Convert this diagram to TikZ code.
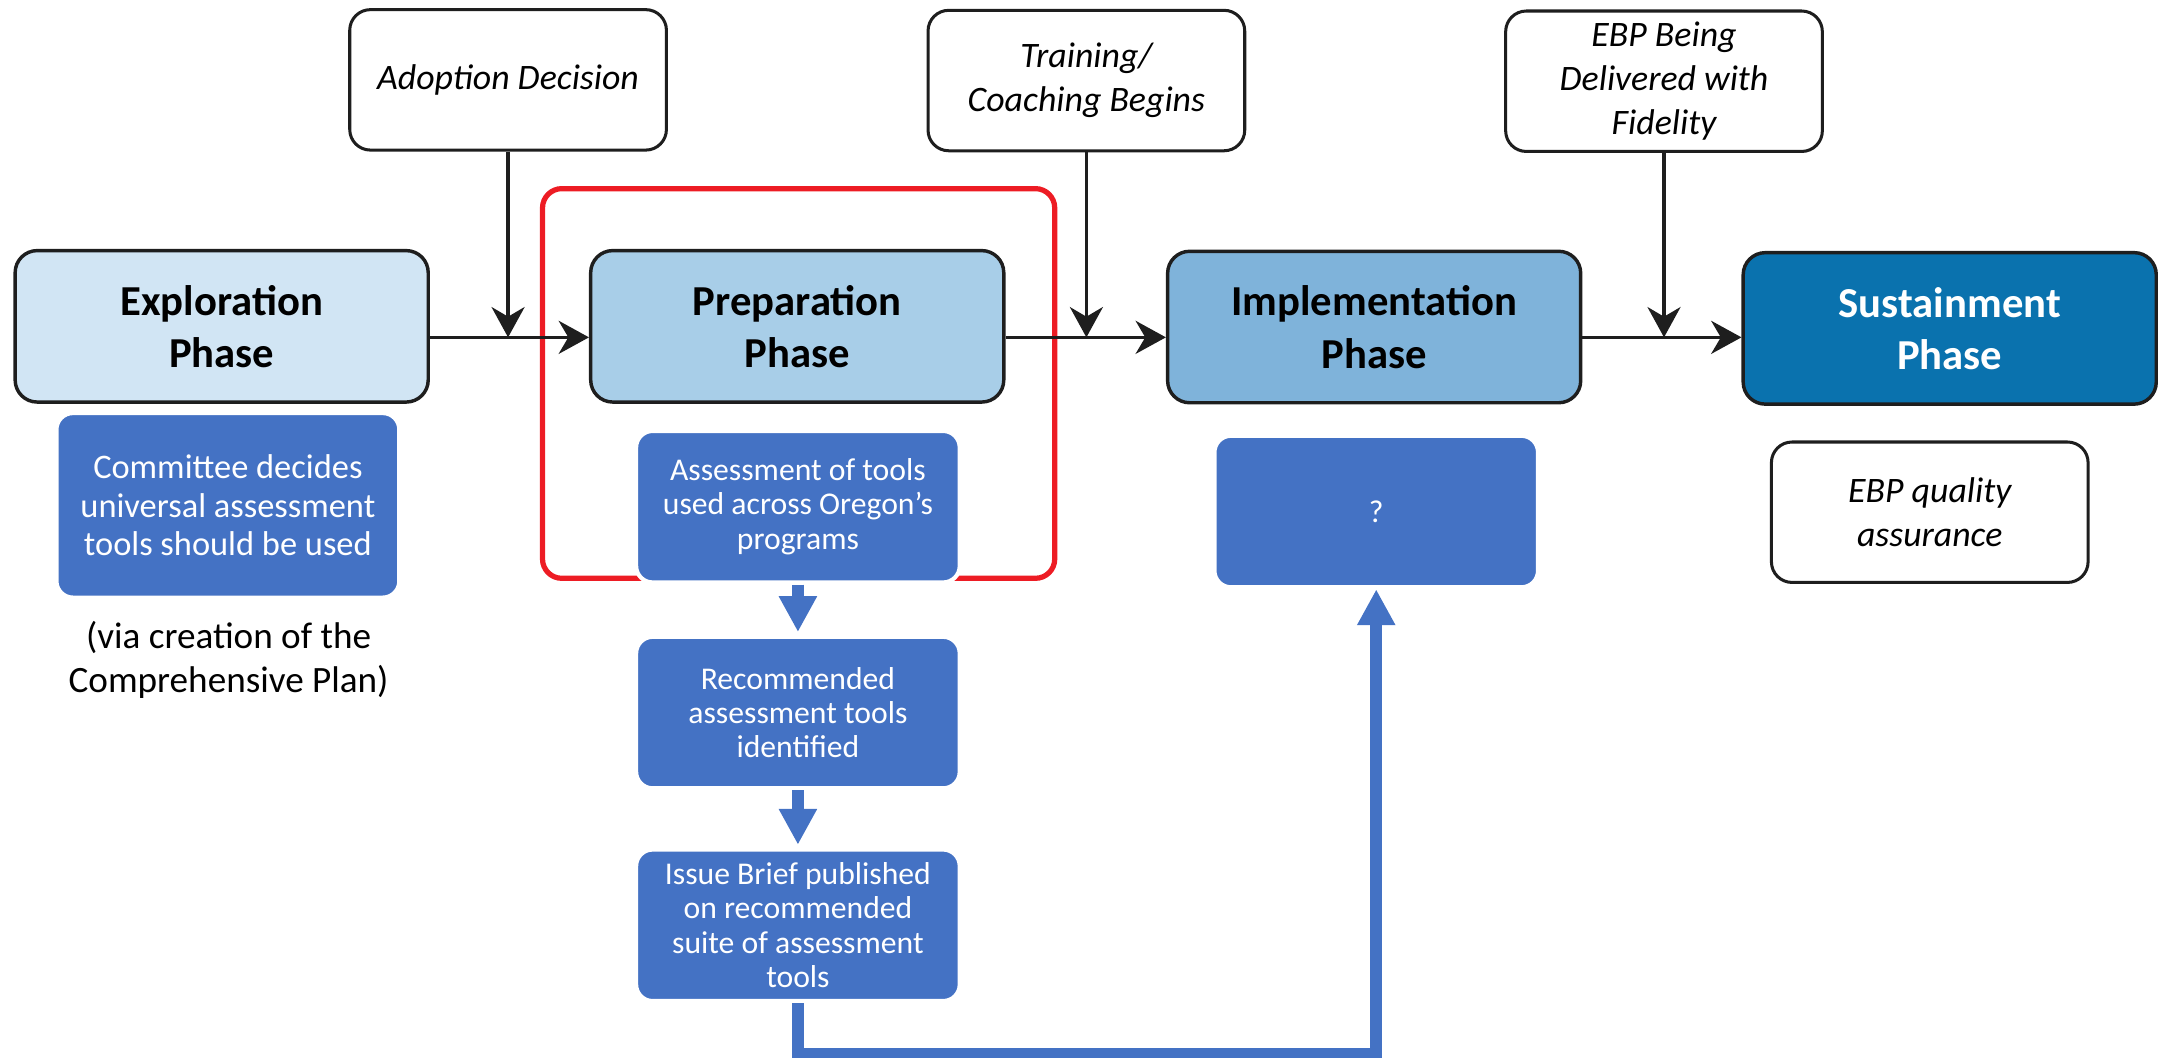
\documentclass[tikz,border=0pt]{standalone}
\usepackage{fontspec}
\setmainfont{Carlito}
\usetikzlibrary{arrows.meta}

\definecolor{expfill}{HTML}{D1E5F4}
\definecolor{prepfill}{HTML}{A8CEE8}
\definecolor{implfill}{HTML}{7FB3DA}
\definecolor{sustfill}{HTML}{0A72AE}
\definecolor{stepblue}{HTML}{4472C4}
\definecolor{framered}{HTML}{ED1C24}
\definecolor{edge}{HTML}{1E1E1E}

\begin{document}
\begin{tikzpicture}[x=1pt, y=-1pt,
  phase/.style={draw=edge, line width=2.5pt, rounded corners=16pt,
    minimum width=300pt, minimum height=110pt, inner sep=0pt, align=center,
    font=\fontsize{31}{38}\selectfont\bfseries},
  event/.style={draw=edge, fill=white, line width=2.2pt, rounded corners=15pt,
    minimum width=230pt, minimum height=102pt, inner sep=0pt, align=center,
    font=\fontsize{26}{32}\selectfont\itshape},
  stepbox/.style={fill=stepblue, draw=white, line width=3pt, rounded corners=12pt,
    minimum width=235pt, minimum height=110pt, inner sep=0pt, align=center,
    text=white, font=\fontsize{23}{25}\selectfont},
  note/.style={inner sep=0pt, align=center, font=\fontsize{27}{32}\selectfont},
  redframe/.style={draw=framered, line width=3.8pt, rounded corners=14pt,
    minimum width=372pt, minimum height=283pt, inner sep=0pt},
  flow/.style={draw=edge, line width=2.4pt,
    -{Stealth[length=22pt, width=24pt, inset=7pt]}},
  bluearrow/.style={draw=stepblue, line width=8.5pt, line join=miter,
    -{Triangle[length=26pt, width=26pt]}},
]
\useasboundingbox (0,0) rectangle (1568,768);

% frame round the preparation stage
\node[redframe] (frame) at (580,278.5) {};

% phases
\node[phase, fill=expfill]  (exp)  at (161,237)  {Exploration\\Phase};
\node[phase, fill=prepfill] (prep) at (579,237)  {Preparation\\Phase};
\node[phase, fill=implfill] (impl) at (998,237.5) {Implementation\\Phase};
\node[phase, fill=sustfill, text=white] (sust) at (1416,238.5) {Sustainment\\Phase};

% milestones
\node[event] (adopt)   at (369,58)     {Adoption Decision};
\node[event] (train)   at (789,58.5)   {Training/\\Coaching Begins};
\node[event] (fidel)   at (1208.5,59)  {EBP Being\\Delivered with\\Fidelity};
\node[event] (quality) at (1401.5,372) {EBP quality\\assurance};

% main flow line and milestone junctions
\coordinate (lvl) at (0,245);
\coordinate (j1) at (adopt.south |- lvl);
\coordinate (j2) at (train.south |- lvl);
\coordinate (j3) at (fidel.south |- lvl);

\draw[flow] (exp.east |- lvl)  -- (prep.west |- lvl);
\draw[flow] (prep.east |- lvl) -- (impl.west |- lvl);
\draw[flow] (impl.east |- lvl) -- (sust.west |- lvl);
\draw[flow] (adopt.south) -- (j1);
\draw[flow] (train.south) -- (j2);
\draw[flow] (fidel.south) -- (j3);

% assessment steps
\node[stepbox, minimum width=249pt, minimum height=134pt,
      font=\fontsize{25}{28}\selectfont] (commit) at (165.5,367)
  {Committee decides\\universal assessment\\tools should be used};
\node[note] (via) at (166,479) {(via creation of the\\Comprehensive Plan)};

\node[stepbox] (assess)  at (579.5,368)   {Assessment of tools\\used across Oregon’s\\programs};
\node[stepbox] (recom)   at (579.5,517.5) {Recommended\\assessment tools\\identified};
\node[stepbox] (brief)   at (579.5,672)   {Issue Brief published\\on recommended\\suite of assessment\\tools};
\node[stepbox] (unknown) at (999.5,371.5) {?};

\draw[bluearrow, shorten >=2pt] (assess.south) -- (recom.north);
\draw[bluearrow, shorten >=2pt] (recom.south) -- (brief.north);
\draw[bluearrow] (brief.south) -- ++(0,36.5) -| (unknown.south);
\end{tikzpicture}
\end{document}
